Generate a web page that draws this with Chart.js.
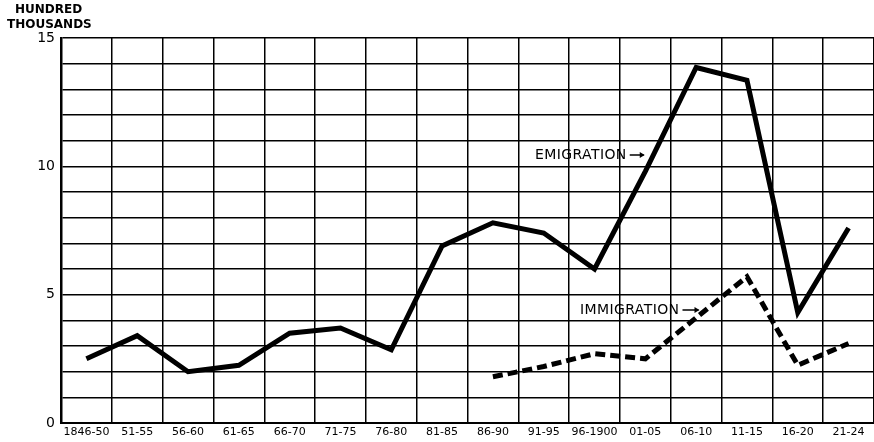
<!DOCTYPE html>
<html><head><meta charset="utf-8">
<script src="https://cdn.jsdelivr.net/npm/chart.js@4/dist/chart.umd.min.js"></script>
<style>html,body{margin:0;padding:0;background:#fff}#wrap{width:874px;height:442px}</style>
</head><body><div id="wrap"><canvas id="c" width="874" height="442"></canvas></div>
<script>
const categories = ["1846-50","51-55","56-60","61-65","66-70","71-75","76-80","81-85","86-90","91-95","96-1900","01-05","06-10","11-15","16-20","21-24"];
const emigration = [2.5,3.4,2.0,2.25,3.5,3.7,2.85,6.9,7.8,7.4,6.0,9.8,13.85,13.35,4.3,7.6];
const immigration = [null,null,null,null,null,null,null,null,1.8,2.2,2.7,2.5,4.1,5.7,2.25,3.1];
const yTickLabels = {0:"0",5:"5",10:"10",15:"15"};
const FONT = "'DejaVu Sans', sans-serif";

function labelWithArrow(ctx, text, x, y, arrowLen){
  ctx.fillText(text, x, y);
  const w = ctx.measureText(text).width;
  const x0 = x + w + 3, x1 = x0 + arrowLen;
  ctx.beginPath();
  ctx.moveTo(x0, y); ctx.lineTo(x1, y);
  ctx.lineWidth = 1.5; ctx.strokeStyle = '#000'; ctx.stroke();
  ctx.beginPath();
  ctx.moveTo(x1 + 1, y); ctx.lineTo(x1 - 4, y - 3); ctx.lineTo(x1 - 4, y + 3); ctx.closePath();
  ctx.fill();
}

const annot = {
  id:'annot',
  afterDraw(chart){
    const ctx = chart.ctx;
    ctx.save();
    ctx.fillStyle = '#000';
    ctx.font = "bold 12px " + FONT;
    ctx.textBaseline = 'middle';
    ctx.fillText('HUNDRED', 15, 10);
    ctx.fillText('THOUSANDS', 7, 25);
    ctx.font = "14px " + FONT;
    ctx.letterSpacing = '0.4px';
    ctx.textAlign = 'left';
    labelWithArrow(ctx, 'EMIGRATION', 535, 155, 14);
    labelWithArrow(ctx, 'IMMIGRATION', 580, 310, 16);
    ctx.restore();
  }
};

new Chart(document.getElementById('c'), {
  type:'line',
  data:{
    labels: categories,
    datasets:[
      {label:'Emigration', data: emigration, borderColor:'#000', borderWidth:5, pointRadius:0, tension:0, fill:false, borderJoinStyle:'miter'},
      {label:'Immigration', data: immigration, borderColor:'#000', borderWidth:5, borderDash:[10,5], pointRadius:0, tension:0, fill:false, spanGaps:false}
    ]
  },
  plugins:[annot],
  options:{
    responsive:false, animation:false,
    layout:{padding:{top:38,right:0,left:0,bottom:0}},
    plugins:{legend:{display:false}, tooltip:{enabled:false}},
    scales:{
      x:{
        type:'category', offset:true,
        grid:{offset:true, color:'#000', lineWidth:1.5, drawTicks:false},
        border:{color:'#000', width:2},
        ticks:{autoSkip:false, maxRotation:0, minRotation:0, padding:3, color:'#000', font:{family:FONT, size:11}},
        afterFit(s){ s.height = 19; }
      },
      y:{
        min:0, max:15,
        grid:{color:'#000', lineWidth:1.5, drawTicks:false},
        border:{color:'#000', width:2.5},
        ticks:{stepSize:1, autoSkip:false, padding:6, color:'#000', font:{family:FONT, size:14},
          callback:(v)=> (yTickLabels[v] !== undefined ? yTickLabels[v] : '')},
        afterFit(s){ s.width = 61; }
      }
    }
  }
});
</script></body></html>
